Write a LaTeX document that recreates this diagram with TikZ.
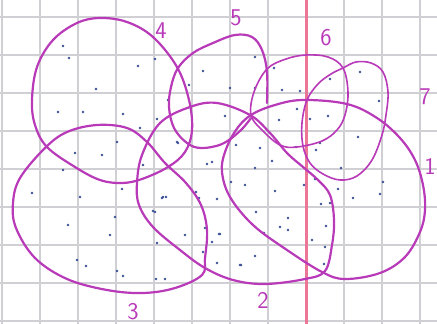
\documentclass[tikz,border=0pt]{standalone}
\definecolor{pen}{RGB}{185,58,185}
\definecolor{dotblue}{RGB}{58,80,150}
\definecolor{gridc}{RGB}{208,208,212}
\definecolor{redline}{RGB}{236,118,150}
\begin{document}
\begin{tikzpicture}[x=1pt,y=-1pt,
  loop/.style={draw=pen, line width=2.2pt, line cap=round, line join=round},
  thinloop/.style={draw=pen, line width=1.6pt, line cap=round, line join=round},
  lbl/.style={text=pen, font=\sffamily\fontsize{24}{24}\selectfont, inner sep=0pt},
  gridline/.style={draw=gridc, line width=1.1pt}]
\useasboundingbox (0,0) rectangle (437,324);
\clip (0,0) rectangle (437,324);
\fill[white] (0,0) rectangle (437,324);
% grid paper
\foreach \x in {2,40,78,116,154,192,230,268,344,382,420} \draw[gridline] (\x,0) -- (\x,324);
\foreach \y in {17,55,93,131,169,207,245,283,321} \draw[gridline] (0,\y) -- (437,\y);
\draw[draw=redline, line width=3pt] (306,0) -- (306,324);
% dots
\foreach \p in {(63,46),(69,58),(138,66),(155,59),(96,89),(58,112),(83,112),(123,114),(157,119),(140,128),(117,142),(168,100),(189,85),(203,71),(192,127),(177,142),(75,153),(102,155),
(255,57),(274,68),(230,88),(255,88),(282,90),(300,91),(330,79),(360,72),(379,101),(297,109),(279,120),(328,116),(358,137),(225,116),(236,145),(260,148),(296,147),(320,143),
(63,170),(32,193),(80,197),(115,217),(68,225),(110,235),(155,212),(163,197),(122,189),(185,235),(157,243),(77,260),(86,266),(117,271),(123,276),(156,279),(165,279),(212,242),(203,252),
(255,168),(231,182),(245,185),(275,191),(304,185),(315,179),(341,168),(338,189),(353,198),(383,182),(380,194),(321,204),(330,203),(256,212),(288,218),(280,227),(288,230),(264,233),(312,240),(326,226),(325,247),(324,264),(255,256),(241,265),(220,234),
(178,143),(207,164),(212,162),(272,161),(143,165),(196,192),(199,198),(217,199),(166,197),(162,198),(153,211),(205,228),
(219,234),(217,263),(240,265),(263,233),(316,150),(310,119)}
  \fill[dotblue] \p circle (1.4);
% shape 4
\draw[loop] plot[smooth cycle, tension=0.6] coordinates {(100,18) (127,22) (153,37) (177,67) (189,100) (192,130) (185,152) (168,167) (142,179) (122,183) (100,180) (75,167) (47,147) (35,125) (32,100) (37,67) (53,40) (77,23)};
% shape 3
\draw[loop] plot[smooth cycle, tension=0.6] coordinates {(97,125) (127,128) (147,142) (165,163) (186,183) (201,205) (207,230) (205,258) (202,275) (175,288) (143,293) (107,290) (67,279) (35,258) (16,228) (13,203) (20,178) (45,148) (67,132)};
% shape 2
\draw[loop] plot[smooth cycle, tension=0.6] coordinates {(217,103) (250,115) (270,133) (287,153) (303,167) (318,180) (330,195) (334,220) (332,245) (325,271) (305,279) (265,284) (233,280) (205,268) (180,250) (153,227) (139,205) (137,183) (142,155) (160,123) (190,107)};
% shape 1
\draw[loop] plot[smooth cycle, tension=0.6] coordinates {(251,115) (275,105) (303,100) (347,104) (377,118) (400,138) (415,160) (423,185) (425,210) (420,232) (405,257) (380,273) (345,279) (322,272) (287,250) (253,225) (230,197) (222,172) (225,152) (236,130)};
% shape 5
\draw[loop] plot[smooth, tension=0.6] coordinates {(267,103) (267,72) (262,50) (252,37) (235,35) (213,43) (193,53) (178,68) (171,87) (169,107) (174,128) (187,143) (201,148) (222,144) (240,131) (251,118)};
% shape 6
\draw[thinloop] plot[smooth cycle, tension=0.6] coordinates {(251,115) (254,92) (267,69) (286,59) (306,55) (328,57) (343,68) (348,92) (345,115) (337,130) (322,141) (297,147) (280,145) (262,130)};
% shape 7
\draw[thinloop] plot[smooth cycle, tension=0.6] coordinates {(343,68) (356,62) (371,63) (383,72) (388,92) (386,115) (382,135) (372,160) (357,176) (340,180) (323,174) (310,163) (303,146) (302,123) (307,100) (318,84) (331,74)};
% labels
\node[lbl] (l4) at (161,31) {4};
\node[lbl] (l5) at (236,18) {5};
\node[lbl] (l6) at (326,38) {6};
\node[lbl] (l7) at (425,97) {7};
\node[lbl] (l1) at (430,166) {1};
\node[lbl] (l2) at (263,300) {2};
\node[lbl] (l3) at (133,312) {3};
\end{tikzpicture}
\end{document}
